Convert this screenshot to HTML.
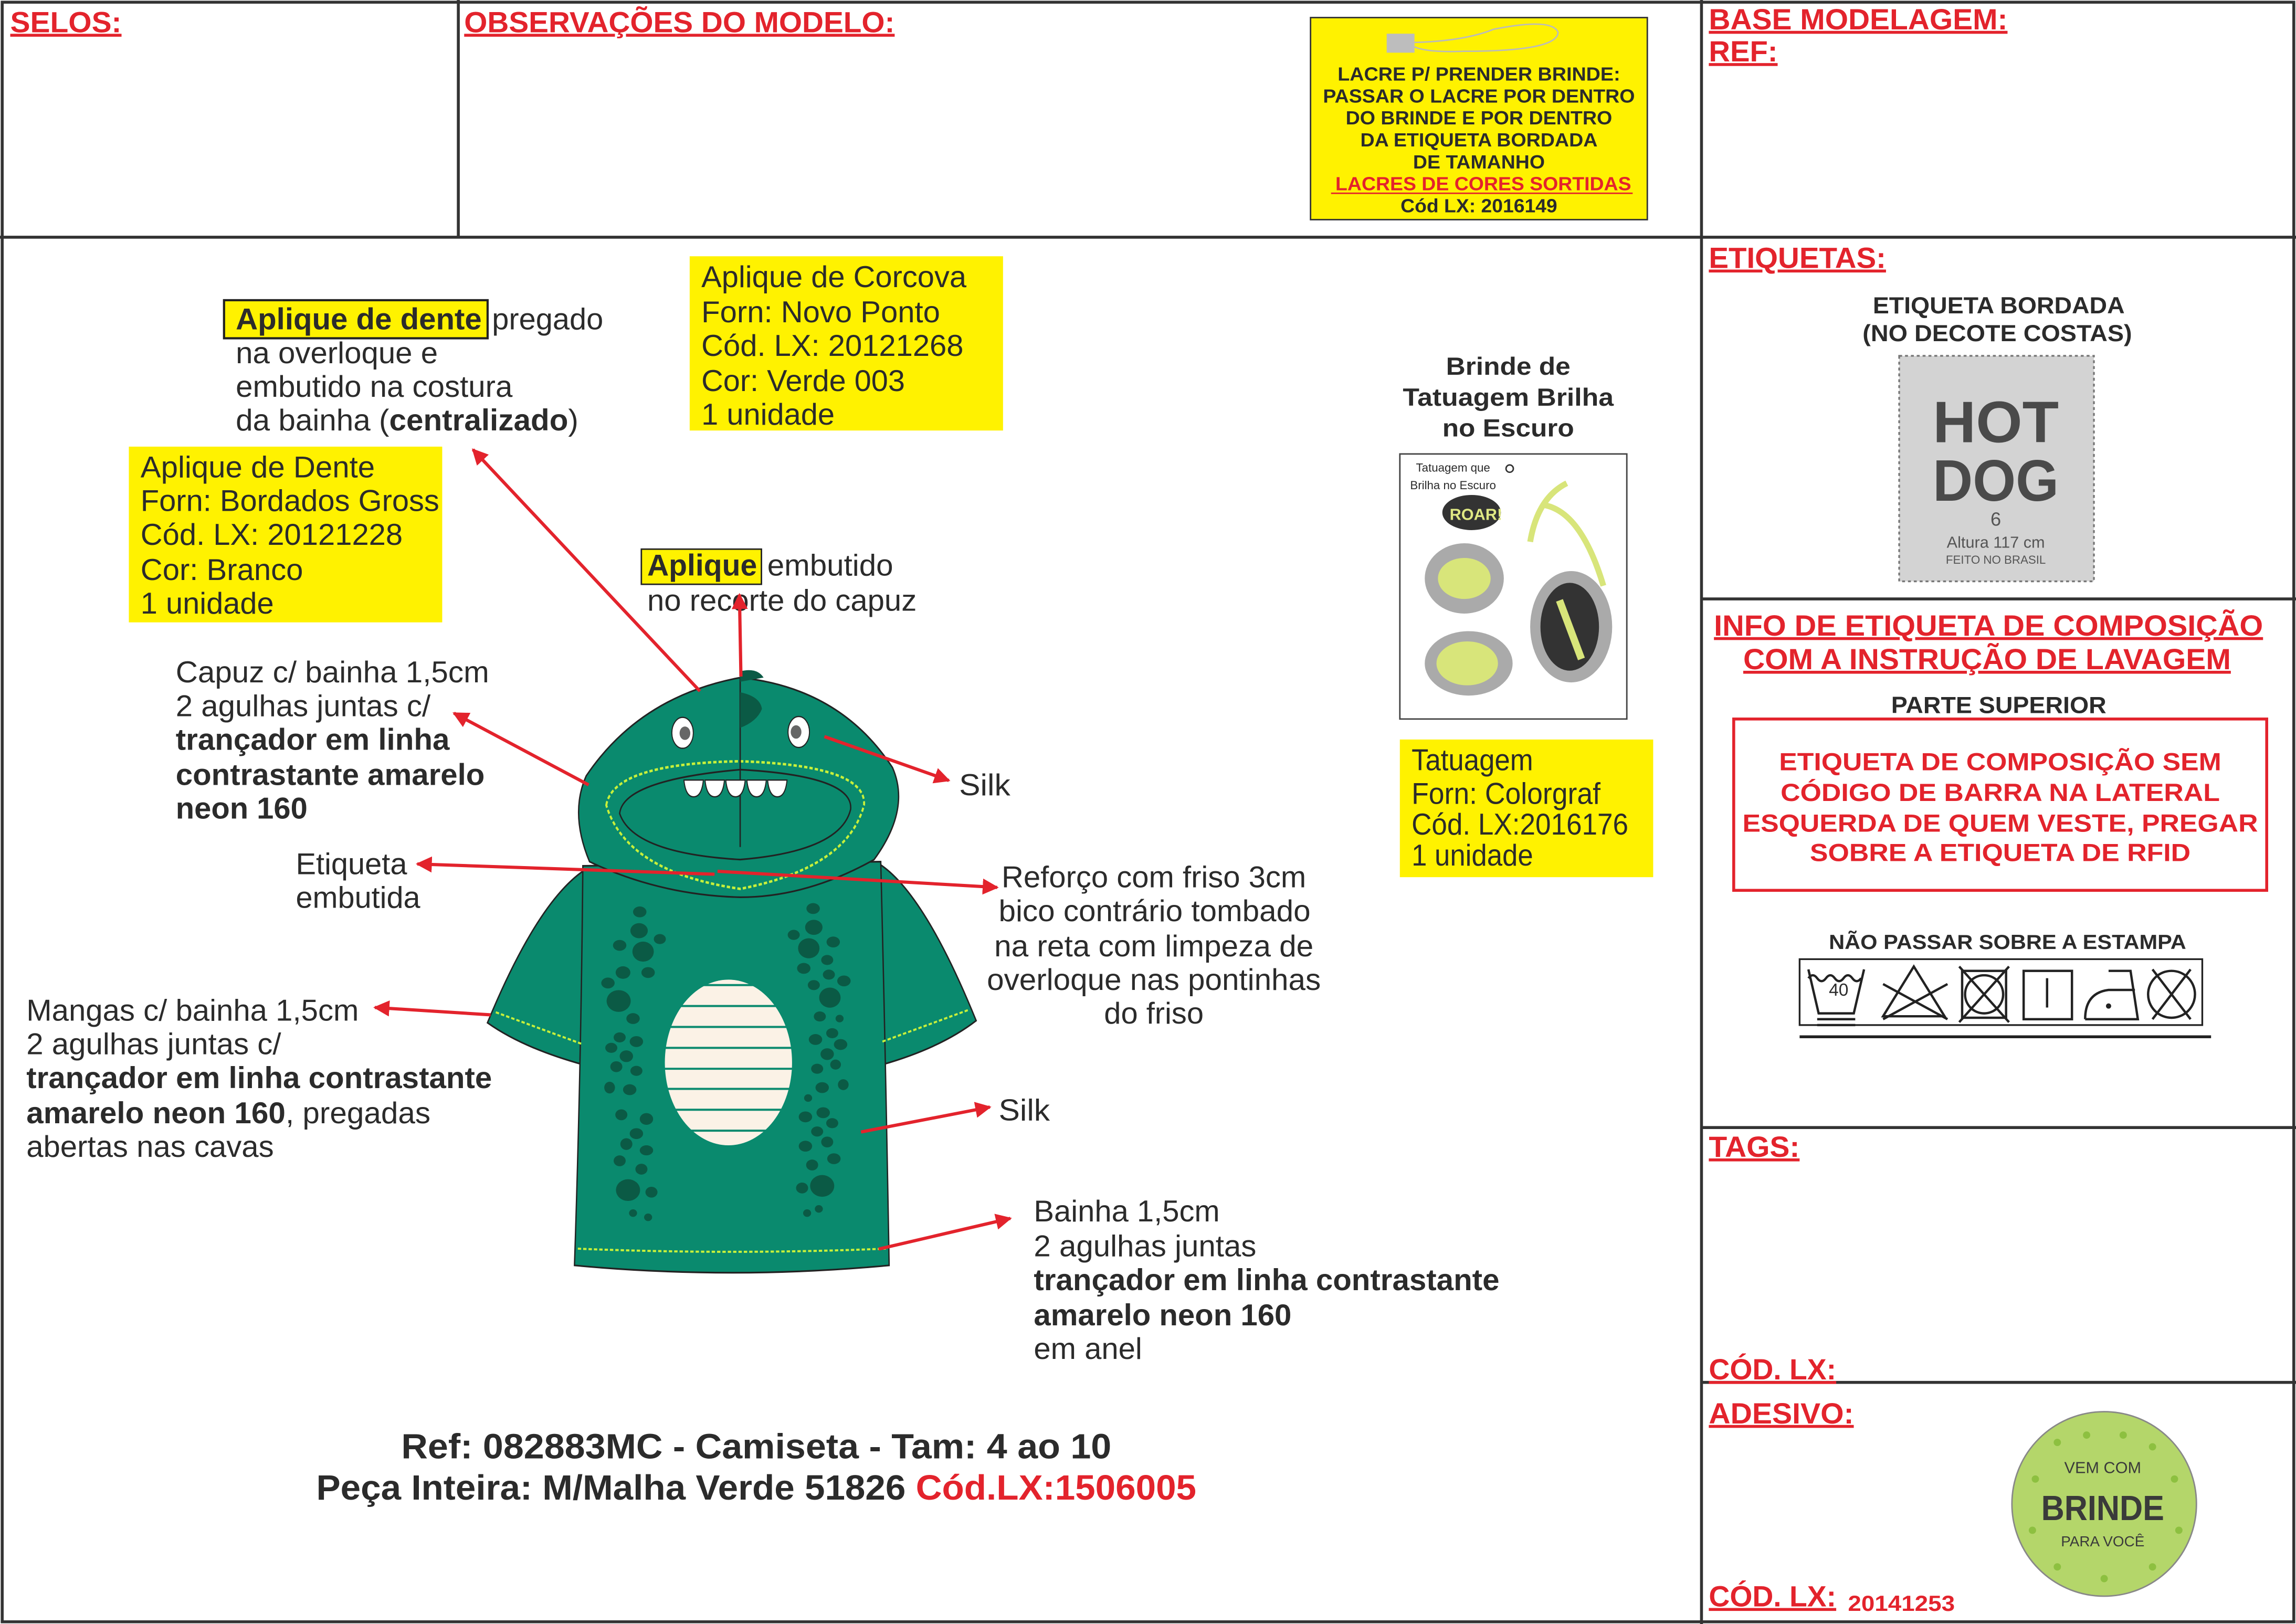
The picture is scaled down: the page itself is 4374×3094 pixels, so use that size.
<!DOCTYPE html>
<html><head><meta charset="utf-8"><style>
html,body{margin:0;padding:0;background:#fff}
svg{display:block}
text{font-family:"Liberation Sans",sans-serif;fill:#2b2b2b}
.h{font-weight:bold;fill:#e3232c;font-size:20px;text-decoration:underline}
.n{font-size:20.5px}
.b{font-weight:bold}
</style></head><body>
<svg width="4374" height="3094" viewBox="0 0 1568 1109" preserveAspectRatio="none" xmlns="http://www.w3.org/2000/svg">
<defs>
<marker id="ah" viewBox="0 0 10 10" refX="9" refY="5" markerWidth="5" markerHeight="5" orient="auto"><path d="M0,0L10,5L0,10z" fill="#e3232c"/></marker>
</defs>
<rect x="0" y="0" width="1568" height="1109" fill="#fff"/>
<g stroke="#333" stroke-width="2" fill="none">
<rect x="1.5" y="1.5" width="1565" height="1106"/>
<line x1="0" y1="162" x2="1568" y2="162"/>
<line x1="313" y1="0" x2="313" y2="162"/>
<line x1="1162" y1="0" x2="1162" y2="1109"/>
<line x1="1162" y1="409" x2="1568" y2="409"/>
<line x1="1162" y1="770" x2="1568" y2="770"/>
<line x1="1162" y1="944" x2="1568" y2="944"/>
</g>
<text class="h" x="7" y="22" textLength="76" lengthAdjust="spacingAndGlyphs">SELOS:</text>
<text class="h" x="317" y="22" textLength="294" lengthAdjust="spacingAndGlyphs">OBSERVAÇÕES DO MODELO:</text>
<text class="h" x="1167" y="20" textLength="204" lengthAdjust="spacingAndGlyphs">BASE MODELAGEM:</text>
<text class="h" x="1167" y="42" textLength="47" lengthAdjust="spacingAndGlyphs">REF:</text>
<text class="h" x="1167" y="183" textLength="121" lengthAdjust="spacingAndGlyphs">ETIQUETAS:</text>
<text class="h" x="1167" y="790" textLength="62" lengthAdjust="spacingAndGlyphs">TAGS:</text>
<text class="h" x="1167" y="942" textLength="87" lengthAdjust="spacingAndGlyphs">CÓD. LX:</text>
<text class="h" x="1167" y="972" textLength="99" lengthAdjust="spacingAndGlyphs">ADESIVO:</text>
<text class="h" x="1167" y="1097" textLength="87" lengthAdjust="spacingAndGlyphs">CÓD. LX:</text>
<text x="1262" y="1100" font-size="15" font-weight="bold" style="fill:#e3232c" textLength="73" lengthAdjust="spacingAndGlyphs">20141253</text>

<rect x="895" y="12" width="230" height="138" fill="#fff200" stroke="#333" stroke-width="1"/>
<rect x="947" y="23" width="19" height="13" fill="#bdbdbd"/>
<path d="M966,29 Q1000,28 1020,20 Q1060,12 1064,22 Q1064,35 1000,35 Q975,36 966,32" fill="none" stroke="#bbb" stroke-width="1"/>
<g font-size="13" font-weight="bold" text-anchor="middle">
<text x="1010" y="55" textLength="193" lengthAdjust="spacingAndGlyphs">LACRE P/ PRENDER BRINDE:</text>
<text x="1010" y="70" textLength="213" lengthAdjust="spacingAndGlyphs">PASSAR O LACRE POR DENTRO</text>
<text x="1010" y="85" textLength="182" lengthAdjust="spacingAndGlyphs">DO BRINDE E POR DENTRO</text>
<text x="1010" y="100" textLength="162" lengthAdjust="spacingAndGlyphs">DA ETIQUETA BORDADA</text>
<text x="1010" y="115" textLength="90" lengthAdjust="spacingAndGlyphs">DE TAMANHO</text>
<text x="1013" y="130" style="fill:#e3232c" textLength="202" lengthAdjust="spacingAndGlyphs">LACRES DE CORES SORTIDAS</text>
<text x="1010" y="145" textLength="107" lengthAdjust="spacingAndGlyphs">Cód LX: 2016149</text>
</g>
<line x1="909" y1="132" x2="1115" y2="132" stroke="#e3232c" stroke-width="1"/>

<rect x="88" y="305" width="214" height="120" fill="#fff200"/>
<rect x="471" y="175" width="214" height="119" fill="#fff200"/>
<rect x="956" y="505" width="173" height="94" fill="#fff200"/>
<rect x="153" y="205" width="180" height="26" fill="#fff200" stroke="#222" stroke-width="1.5"/>
<rect x="438" y="375" width="82" height="24" fill="#fff200" stroke="#222" stroke-width="1"/>

<g class="n">
<text class="n b" x="161" y="225" textLength="168" lengthAdjust="spacingAndGlyphs">Aplique de dente</text>
<text class="n" x="336" y="225" textLength="76" lengthAdjust="spacingAndGlyphs">pregado</text>
<text class="n" x="161" y="248" textLength="138" lengthAdjust="spacingAndGlyphs">na overloque e</text>
<text class="n" x="161" y="271" textLength="189" lengthAdjust="spacingAndGlyphs">embutido na costura</text>
<text class="n" x="161" y="294" textLength="234" lengthAdjust="spacingAndGlyphs">da bainha (<tspan font-weight="bold">centralizado</tspan>)</text>

<text class="n" x="96" y="326" textLength="160" lengthAdjust="spacingAndGlyphs">Aplique de Dente</text>
<text class="n" x="96" y="349" textLength="204" lengthAdjust="spacingAndGlyphs">Forn: Bordados Gross</text>
<text class="n" x="96" y="372" textLength="179" lengthAdjust="spacingAndGlyphs">Cód. LX: 20121228</text>
<text class="n" x="96" y="396" textLength="111" lengthAdjust="spacingAndGlyphs">Cor: Branco</text>
<text class="n" x="96" y="419" textLength="91" lengthAdjust="spacingAndGlyphs">1 unidade</text>

<text class="n" x="479" y="196" textLength="181" lengthAdjust="spacingAndGlyphs">Aplique de Corcova</text>
<text class="n" x="479" y="220" textLength="163" lengthAdjust="spacingAndGlyphs">Forn: Novo Ponto</text>
<text class="n" x="479" y="243" textLength="179" lengthAdjust="spacingAndGlyphs">Cód. LX: 20121268</text>
<text class="n" x="479" y="267" textLength="139" lengthAdjust="spacingAndGlyphs">Cor: Verde 003</text>
<text class="n" x="479" y="290" textLength="91" lengthAdjust="spacingAndGlyphs">1 unidade</text>

<text class="n b" x="442" y="393" textLength="75" lengthAdjust="spacingAndGlyphs">Aplique</text>
<text class="n" x="524" y="393" textLength="86" lengthAdjust="spacingAndGlyphs">embutido</text>
<text class="n" x="442" y="417" textLength="184" lengthAdjust="spacingAndGlyphs">no recorte do capuz</text>

<text class="n" x="120" y="466" textLength="214" lengthAdjust="spacingAndGlyphs">Capuz c/ bainha 1,5cm</text>
<text class="n" x="120" y="489" textLength="174" lengthAdjust="spacingAndGlyphs">2 agulhas juntas c/</text>
<text class="n b" x="120" y="512" textLength="187" lengthAdjust="spacingAndGlyphs">trançador em linha</text>
<text class="n b" x="120" y="536" textLength="211" lengthAdjust="spacingAndGlyphs">contrastante amarelo</text>
<text class="n b" x="120" y="559" textLength="90" lengthAdjust="spacingAndGlyphs">neon 160</text>

<text class="n" x="202" y="597" textLength="76" lengthAdjust="spacingAndGlyphs">Etiqueta</text>
<text class="n" x="202" y="620" textLength="85" lengthAdjust="spacingAndGlyphs">embutida</text>

<text class="n" x="655" y="543" textLength="35" lengthAdjust="spacingAndGlyphs">Silk</text>
<text class="n" x="682" y="765" textLength="35" lengthAdjust="spacingAndGlyphs">Silk</text>

<text class="n" x="684" y="606" textLength="208" lengthAdjust="spacingAndGlyphs">Reforço com friso 3cm</text>
<text class="n" x="682" y="629" textLength="213" lengthAdjust="spacingAndGlyphs">bico contrário tombado</text>
<text class="n" x="679" y="653" textLength="218" lengthAdjust="spacingAndGlyphs">na reta com limpeza de</text>
<text class="n" x="674" y="676" textLength="228" lengthAdjust="spacingAndGlyphs">overloque nas pontinhas</text>
<text class="n" x="754" y="699" textLength="68" lengthAdjust="spacingAndGlyphs">do friso</text>

<text class="n" x="18" y="697" textLength="227" lengthAdjust="spacingAndGlyphs">Mangas c/ bainha 1,5cm</text>
<text class="n" x="18" y="720" textLength="174" lengthAdjust="spacingAndGlyphs">2 agulhas juntas c/</text>
<text class="n b" x="18" y="743" textLength="318" lengthAdjust="spacingAndGlyphs">trançador em linha contrastante</text>
<text class="n" x="18" y="767" textLength="276" lengthAdjust="spacingAndGlyphs"><tspan font-weight="bold">amarelo neon 160</tspan>, pregadas</text>
<text class="n" x="18" y="790" textLength="169" lengthAdjust="spacingAndGlyphs">abertas nas cavas</text>

<text class="n" x="706" y="834" textLength="127" lengthAdjust="spacingAndGlyphs">Bainha 1,5cm</text>
<text class="n" x="706" y="858" textLength="152" lengthAdjust="spacingAndGlyphs">2 agulhas juntas</text>
<text class="n b" x="706" y="881" textLength="318" lengthAdjust="spacingAndGlyphs">trançador em linha contrastante</text>
<text class="n b" x="706" y="905" textLength="176" lengthAdjust="spacingAndGlyphs">amarelo neon 160</text>
<text class="n" x="706" y="928" textLength="74" lengthAdjust="spacingAndGlyphs">em anel</text>

<text class="n" x="964" y="526" textLength="83" lengthAdjust="spacingAndGlyphs">Tatuagem</text>
<text class="n" x="964" y="549" textLength="129" lengthAdjust="spacingAndGlyphs">Forn: Colorgraf</text>
<text class="n" x="964" y="570" textLength="148" lengthAdjust="spacingAndGlyphs">Cód. LX:2016176</text>
<text class="n" x="964" y="591" textLength="83" lengthAdjust="spacingAndGlyphs">1 unidade</text>
</g>

<g font-size="24" font-weight="bold">
<text x="274" y="996" textLength="485" lengthAdjust="spacingAndGlyphs">Ref: 082883MC - Camiseta -  Tam: 4 ao 10</text>
<text x="216" y="1024" textLength="601" lengthAdjust="spacingAndGlyphs">Peça Inteira: M/Malha Verde 51826 <tspan style="fill:#e3232c">Cód.LX:1506005</tspan></text>
</g>

<g font-size="17" font-weight="bold" text-anchor="middle">
<text x="1030" y="256" textLength="85" lengthAdjust="spacingAndGlyphs">Brinde de</text>
<text x="1030" y="277" textLength="144" lengthAdjust="spacingAndGlyphs">Tatuagem Brilha</text>
<text x="1030" y="298" textLength="90" lengthAdjust="spacingAndGlyphs">no Escuro</text>
<text x="1365" y="214" font-size="16" textLength="172" lengthAdjust="spacingAndGlyphs">ETIQUETA BORDADA</text>
<text x="1364" y="233" font-size="16" textLength="184" lengthAdjust="spacingAndGlyphs">(NO DECOTE COSTAS)</text>
<text x="1358" y="434" font-size="20" style="fill:#e3232c;text-decoration:underline" textLength="375" lengthAdjust="spacingAndGlyphs">INFO DE ETIQUETA DE COMPOSIÇÃO</text>
<text x="1357" y="457" font-size="20" style="fill:#e3232c;text-decoration:underline" textLength="333" lengthAdjust="spacingAndGlyphs">COM A INSTRUÇÃO DE LAVAGEM</text>
<text x="1365" y="487" font-size="16" textLength="147" lengthAdjust="spacingAndGlyphs">PARTE SUPERIOR</text>
<text x="1366" y="526" style="fill:#e3232c" textLength="302" lengthAdjust="spacingAndGlyphs">ETIQUETA DE COMPOSIÇÃO SEM</text>
<text x="1366" y="547" style="fill:#e3232c" textLength="300" lengthAdjust="spacingAndGlyphs">CÓDIGO DE BARRA NA LATERAL</text>
<text x="1366" y="568" style="fill:#e3232c" textLength="352" lengthAdjust="spacingAndGlyphs">ESQUERDA DE QUEM VESTE, PREGAR</text>
<text x="1366" y="588" style="fill:#e3232c" textLength="260" lengthAdjust="spacingAndGlyphs">SOBRE A ETIQUETA DE RFID</text>
<text x="1371" y="648" font-size="14" textLength="244" lengthAdjust="spacingAndGlyphs">NÃO PASSAR SOBRE A ESTAMPA</text>
</g>
<rect x="1184" y="491" width="364" height="117" fill="none" stroke="#e3232c" stroke-width="2"/>

<g stroke="#222" stroke-width="1.6" fill="none">
<rect x="1229" y="655" width="275" height="45" stroke-width="1.2"/>
<line x1="1229" y1="708" x2="1510" y2="708" stroke-width="2"/>
<path d="M1235,662 L1242,692 L1266,692 L1273,662"/>
<path d="M1235,668 q3,-4 6,0 q3,4 6,0 q3,-4 6,0 q3,4 6,0 q3,-4 6,0 q3,4 6,0"/>
<line x1="1241" y1="696" x2="1267" y2="696"/><line x1="1241" y1="700" x2="1267" y2="700"/>
<path d="M1307,660 L1286,694 L1328,694 Z"/><line x1="1286" y1="672" x2="1330" y2="696"/><line x1="1330" y1="672" x2="1286" y2="696"/>
<rect x="1340" y="663" width="30" height="32"/><circle cx="1355" cy="679" r="13"/><line x1="1338" y1="660" x2="1372" y2="698"/><line x1="1372" y1="660" x2="1338" y2="698"/>
<rect x="1382" y="663" width="33" height="33"/><line x1="1398" y1="668" x2="1398" y2="688"/>
<path d="M1424,696 L1460,696 L1455,663 L1440,663 M1424,696 Q1424,678 1440,676 L1458,676"/>
<circle cx="1483" cy="679" r="16"/><line x1="1470" y1="662" x2="1496" y2="696"/><line x1="1496" y1="662" x2="1470" y2="696"/>
</g>
<circle cx="1440" cy="687" r="1.8" fill="#222"/>
<text x="1249" y="680" font-size="12">40</text>

<rect x="1297" y="243" width="133" height="154" fill="#d3d3d3" stroke="#777" stroke-width="1.2" stroke-dasharray="2,2"/>
<text x="1363" y="302" font-size="40" font-weight="bold" text-anchor="middle" style="fill:#4a4a4a" textLength="86" lengthAdjust="spacingAndGlyphs">HOT</text>
<text x="1363" y="342" font-size="40" font-weight="bold" text-anchor="middle" style="fill:#4a4a4a" textLength="86" lengthAdjust="spacingAndGlyphs">DOG</text>
<text x="1363" y="359" font-size="13" text-anchor="middle" style="fill:#555">6</text>
<text x="1363" y="374" font-size="11" text-anchor="middle" style="fill:#555">Altura 117 cm</text>
<text x="1363" y="385" font-size="8" text-anchor="middle" style="fill:#555">FEITO NO BRASIL</text>

<rect x="956" y="310" width="155" height="181" fill="#fff" stroke="#444" stroke-width="1"/>
<text x="967" y="322" font-size="8">Tatuagem que</text>
<text x="963" y="334" font-size="8">Brilha no Escuro</text>
<circle cx="1031" cy="320" r="2.5" fill="none" stroke="#333"/>
<ellipse cx="1005" cy="350" rx="20" ry="12" fill="#333"/>
<text x="990" y="355" font-size="11" font-weight="bold" style="fill:#dfe884">ROAR!</text>
<path d="M1045,370 Q1050,340 1070,330 M1055,345 Q1080,350 1095,400" stroke="#d8e57a" stroke-width="4" fill="none"/>
<ellipse cx="1000" cy="395" rx="27" ry="24" fill="#aaa"/><ellipse cx="1000" cy="395" rx="18" ry="14" fill="#d8e57a"/>
<ellipse cx="1073" cy="428" rx="28" ry="38" fill="#aaa"/><ellipse cx="1072" cy="428" rx="20" ry="30" fill="#333"/><path d="M1065,410 L1080,450" stroke="#d8e57a" stroke-width="5"/>
<ellipse cx="1003" cy="453" rx="30" ry="22" fill="#aaa"/><ellipse cx="1002" cy="453" rx="21" ry="15" fill="#d8e57a"/>

<circle cx="1437" cy="1027" r="63" fill="#b4d66a" stroke="#888" stroke-width="1"/>
<g fill="#8dc040">
<circle cx="1405" cy="985" r="2.5"/><circle cx="1425" cy="980" r="2.5"/><circle cx="1450" cy="980" r="2.5"/><circle cx="1470" cy="988" r="2.5"/><circle cx="1390" cy="1010" r="2.5"/><circle cx="1485" cy="1010" r="2.5"/><circle cx="1388" cy="1045" r="2.5"/><circle cx="1488" cy="1045" r="2.5"/><circle cx="1405" cy="1070" r="2.5"/><circle cx="1437" cy="1078" r="2.5"/><circle cx="1470" cy="1070" r="2.5"/>
</g>
<text x="1436" y="1006" font-size="11" text-anchor="middle" style="fill:#3a3a3a">VEM COM</text>
<text x="1436" y="1038" font-size="24" font-weight="bold" text-anchor="middle" style="fill:#3a3a3a" textLength="84" lengthAdjust="spacingAndGlyphs">BRINDE</text>
<text x="1436" y="1056" font-size="10" text-anchor="middle" style="fill:#3a3a3a">PARA VOCÊ</text>

<!-- shirt -->
<g transform="translate(322.6,427) scale(0.2286,0.2857)" stroke="#222" stroke-width="4">
<path d="M345,580 Q200,650 45,950 Q150,1010 330,1050 Z" fill="#0a8a6e"/>
<path d="M1215,570 Q1350,640 1505,945 Q1400,1010 1225,1050 Z" fill="#0a8a6e"/>
<path d="M330,575 L1220,565 Q1235,1050 1245,1530 Q775,1565 305,1530 Q325,1050 330,575 Z" fill="#0a8a6e"/>
<path d="M350,565 Q290,450 340,360 Q500,170 800,125 Q1100,150 1255,340 Q1310,440 1200,560 Q1000,650 800,650 Q560,645 350,565 Z" fill="#0a8a6e"/>
<path d="M440,450 Q450,370 800,345 Q1140,360 1130,440 Q1100,540 800,560 Q480,545 440,450 Z" fill="#0a8a6e"/>
<path d="M400,430 Q420,330 800,325 Q1180,335 1170,430 Q1120,580 800,630 Q460,590 400,430 Z" fill="none" stroke="#c8f03a" stroke-width="6" stroke-dasharray="10,6"/>
<line x1="800" y1="125" x2="800" y2="530"/>
<path d="M800,160 Q860,170 865,200 Q850,230 800,245 Z" fill="#0b5a45" stroke="none"/>
<path d="M800,110 Q850,100 870,125 L800,135 Z" fill="#0b5a45" stroke="none"/>
<g fill="#fff" stroke="#222" stroke-width="3">
<path d="M632,370 h58 q-5,40 -29,40 q-24,0 -29,-40z"/><path d="M695,370 h58 q-5,40 -29,40 q-24,0 -29,-40z"/><path d="M757,370 h58 q-5,40 -29,40 q-24,0 -29,-40z"/><path d="M820,370 h58 q-5,40 -29,40 q-24,0 -29,-40z"/><path d="M882,370 h58 q-5,40 -29,40 q-24,0 -29,-40z"/>
<ellipse cx="628" cy="257" rx="32" ry="37"/><ellipse cx="975" cy="255" rx="32" ry="37"/>
</g>
<circle cx="635" cy="258" r="16" fill="#666" stroke="none"/><circle cx="967" cy="255" r="16" fill="#666" stroke="none"/>
<g fill="#0b5a45" stroke="none">
<ellipse cx="500" cy="685" rx="20" ry="13"/><ellipse cx="498" cy="730" rx="26" ry="18"/><ellipse cx="510" cy="780" rx="32" ry="24"/><ellipse cx="440" cy="765" rx="20" ry="13"/><ellipse cx="560" cy="750" rx="18" ry="12"/><ellipse cx="450" cy="830" rx="22" ry="15"/><ellipse cx="525" cy="830" rx="20" ry="13"/><ellipse cx="405" cy="855" rx="20" ry="13"/><ellipse cx="437" cy="898" rx="36" ry="26"/><ellipse cx="480" cy="940" rx="20" ry="13"/><ellipse cx="440" cy="985" rx="18" ry="12"/><ellipse cx="490" cy="995" rx="20" ry="13"/><ellipse cx="415" cy="1010" rx="18" ry="12"/><ellipse cx="460" cy="1030" rx="20" ry="14"/><ellipse cx="430" cy="1055" rx="18" ry="13"/><ellipse cx="490" cy="1065" rx="18" ry="12"/><ellipse cx="410" cy="1105" rx="16" ry="14"/><ellipse cx="470" cy="1110" rx="20" ry="13"/><ellipse cx="445" cy="1170" rx="18" ry="13"/><ellipse cx="520" cy="1180" rx="20" ry="14"/><ellipse cx="490" cy="1215" rx="20" ry="13"/><ellipse cx="460" cy="1240" rx="18" ry="14"/><ellipse cx="520" cy="1255" rx="20" ry="12"/><ellipse cx="440" cy="1280" rx="18" ry="13"/><ellipse cx="505" cy="1300" rx="18" ry="13"/><ellipse cx="465" cy="1350" rx="36" ry="26"/><ellipse cx="535" cy="1355" rx="18" ry="13"/><ellipse cx="480" cy="1405" rx="12" ry="9"/><ellipse cx="525" cy="1415" rx="12" ry="9"/>
<ellipse cx="1018" cy="677" rx="20" ry="13"/><ellipse cx="1020" cy="722" rx="26" ry="18"/><ellipse cx="1005" cy="772" rx="32" ry="24"/><ellipse cx="960" cy="740" rx="18" ry="12"/><ellipse cx="1078" cy="757" rx="20" ry="13"/><ellipse cx="1060" cy="800" rx="18" ry="12"/><ellipse cx="990" cy="820" rx="20" ry="13"/><ellipse cx="1065" cy="835" rx="18" ry="12"/><ellipse cx="1110" cy="850" rx="20" ry="13"/><ellipse cx="1020" cy="860" rx="18" ry="12"/><ellipse cx="1068" cy="890" rx="32" ry="24"/><ellipse cx="1038" cy="935" rx="18" ry="12"/><ellipse cx="1097" cy="940" rx="12" ry="9"/><ellipse cx="1025" cy="990" rx="20" ry="13"/><ellipse cx="1075" cy="975" rx="18" ry="12"/><ellipse cx="1100" cy="1002" rx="20" ry="13"/><ellipse cx="1060" cy="1025" rx="20" ry="14"/><ellipse cx="1030" cy="1060" rx="18" ry="12"/><ellipse cx="1085" cy="1050" rx="16" ry="12"/><ellipse cx="1108" cy="1098" rx="16" ry="13"/><ellipse cx="1045" cy="1105" rx="20" ry="13"/><ellipse cx="1003" cy="1130" rx="12" ry="9"/><ellipse cx="995" cy="1175" rx="20" ry="13"/><ellipse cx="1048" cy="1165" rx="20" ry="13"/><ellipse cx="1075" cy="1190" rx="18" ry="12"/><ellipse cx="1030" cy="1210" rx="18" ry="12"/><ellipse cx="995" cy="1245" rx="20" ry="13"/><ellipse cx="1060" cy="1235" rx="18" ry="13"/><ellipse cx="1080" cy="1275" rx="20" ry="13"/><ellipse cx="1015" cy="1290" rx="18" ry="13"/><ellipse cx="1045" cy="1340" rx="36" ry="26"/><ellipse cx="985" cy="1345" rx="18" ry="13"/><ellipse cx="1000" cy="1405" rx="12" ry="9"/><ellipse cx="1035" cy="1395" rx="12" ry="9"/>
</g>
<ellipse cx="765" cy="1045" rx="190" ry="198" fill="#fbf2e6" stroke="none"/>
<g stroke="#0a8a6e" stroke-width="5">
<line x1="570" y1="860" x2="960" y2="860"/><line x1="570" y1="910" x2="960" y2="910"/><line x1="570" y1="960" x2="960" y2="960"/><line x1="570" y1="1010" x2="960" y2="1010"/><line x1="570" y1="1060" x2="960" y2="1060"/><line x1="570" y1="1108" x2="960" y2="1108"/><line x1="570" y1="1158" x2="960" y2="1158"/><line x1="570" y1="1208" x2="960" y2="1208"/>
</g>
<g stroke="#c8f03a" stroke-width="5" stroke-dasharray="10,6" fill="none">
<path d="M70,925 L325,1000"/><path d="M1225,995 L1480,920"/><path d="M315,1490 Q775,1505 1235,1490"/>
</g>
</g>

<g stroke="#e3232c" stroke-width="2.2" fill="none" marker-end="url(#ah)">
<line x1="478" y1="472" x2="323" y2="307"/>
<line x1="506" y1="462" x2="505" y2="406"/>
<line x1="402" y1="536" x2="310" y2="487"/>
<line x1="563" y1="503" x2="648" y2="533"/>
<line x1="488" y1="597" x2="285" y2="590"/>
<line x1="490" y1="595" x2="681" y2="606"/>
<line x1="335" y1="693" x2="256" y2="688"/>
<line x1="588" y1="773" x2="676" y2="756"/>
<line x1="600" y1="853" x2="690" y2="832"/>
</g>
</svg>
</body></html>
